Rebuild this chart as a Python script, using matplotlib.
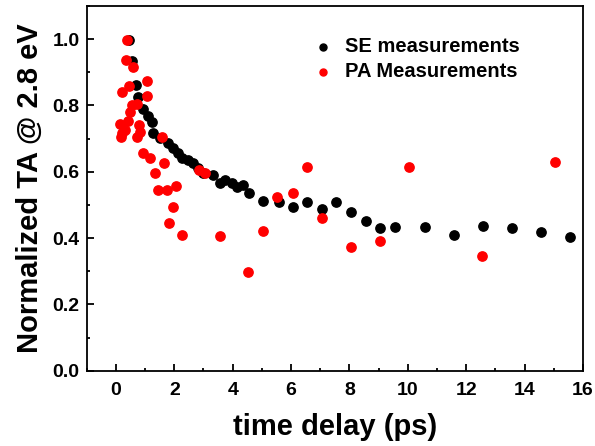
import matplotlib.pyplot as plt
from matplotlib.ticker import MultipleLocator

plt.rcParams['font.family'] = ['Liberation Sans', 'DejaVu Sans']
plt.rcParams['font.weight'] = 'bold'

# SE measurements (black)
se_t = [0.46, 0.54, 0.69, 0.77, 0.92, 1.11, 1.22, 1.28, 1.51, 1.79, 1.97,
        2.14, 2.25, 2.48, 2.65, 2.82, 3.0, 3.34, 3.57, 3.74, 3.97, 4.16,
        4.37, 4.56, 5.05, 5.57, 6.08, 6.54, 7.06, 7.55, 8.06, 8.57, 9.06,
        9.57, 10.57, 11.57, 12.57, 13.57, 14.57, 15.56]
se_y = [0.996, 0.934, 0.863, 0.825, 0.79, 0.767, 0.751, 0.716, 0.701, 0.686,
        0.671, 0.656, 0.641, 0.636, 0.626, 0.611, 0.595, 0.59, 0.566, 0.576,
        0.566, 0.554, 0.56, 0.535, 0.512, 0.51, 0.493, 0.51, 0.487, 0.51,
        0.48, 0.453, 0.43, 0.433, 0.435, 0.41, 0.438, 0.432, 0.418, 0.403]

# PA measurements (red)
pa_t = [0.37, 0.33, 0.59, 1.07, 0.46, 0.2, 1.05, 0.54, 0.71, 0.48, 0.42,
        0.14, 0.8, 0.31, 0.2, 0.82, 0.71, 0.16, 0.94, 1.17, 1.57, 1.65,
        1.34, 1.45, 1.76, 2.05, 1.94, 1.83, 2.25, 2.86, 3.05, 3.55, 4.54,
        5.05, 5.53, 6.05, 6.54, 7.06, 8.05, 9.03, 10.04, 12.54, 15.04]
pa_y = [0.996, 0.938, 0.915, 0.873, 0.86, 0.84, 0.828, 0.80, 0.805, 0.78,
        0.754, 0.744, 0.741, 0.726, 0.716, 0.721, 0.706, 0.706, 0.658, 0.643,
        0.706, 0.628, 0.596, 0.545, 0.545, 0.558, 0.495, 0.445, 0.41, 0.606,
        0.596, 0.407, 0.297, 0.423, 0.525, 0.537, 0.616, 0.46, 0.374, 0.392,
        0.616, 0.346, 0.629]

fig = plt.figure(figsize=(5.95, 4.46), dpi=100)
ax = fig.add_axes([0.1457, 0.1686, 0.8343, 0.818])

ax.scatter(se_t, se_y, s=45, color='black', label='SE measurements', zorder=3)
ax.scatter(pa_t, pa_y, s=45, color='red', label='PA Measurements', zorder=3)

ax.set_xlim(-1, 16)
ax.set_ylim(0, 1.1)
ax.xaxis.set_major_locator(MultipleLocator(2))
ax.xaxis.set_minor_locator(MultipleLocator(1))
ax.yaxis.set_major_locator(MultipleLocator(0.2))
ax.yaxis.set_minor_locator(MultipleLocator(0.1))
ax.tick_params(which='both', direction='in', top=False, right=False,
               labelsize=14, width=1.3)
ax.tick_params(which='major', length=5)
ax.tick_params(which='minor', length=2.5)
ax.tick_params(axis='x', pad=8)
ax.tick_params(axis='y', pad=5)
for lab in ax.get_xticklabels() + ax.get_yticklabels():
    lab.set_fontweight('bold')
for sp in ax.spines.values():
    sp.set_linewidth(1.3)

ax.set_xlabel('time delay (ps)', fontsize=21, fontweight='bold', labelpad=10)
ax.set_ylabel('Normalized TA @ 2.8 eV', fontsize=21, fontweight='bold', labelpad=6)

ax.legend(loc='upper left', bbox_to_anchor=(0.456, 0.915), frameon=False,
          prop={'weight': 'bold', 'size': 14.5}, handlelength=1.0,
          handletextpad=0.6, borderpad=0, borderaxespad=0,
          markerscale=0.75, labelspacing=0.3)

fig.savefig('out.png', dpi=100)
